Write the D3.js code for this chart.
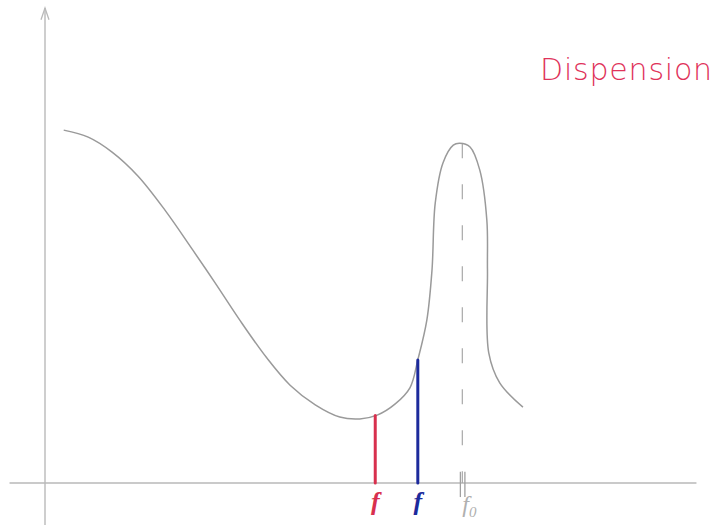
<!DOCTYPE html>
<html>
<head>
<meta charset="utf-8">
<script src="https://cdn.jsdelivr.net/npm/d3@7"></script>
<style>
  html, body { margin: 0; padding: 0; background: #fff; }
  svg { display: block; }
</style>
</head>
<body>
<svg id="chart" width="724" height="530"></svg>
<script>
// Response curve: a broad fall to a trough, then a sharp resonance peak at f0
const curveX = [0.29, 0.67, 1.04, 1.44, 1.86, 2.29, 2.64, 3.02, 3.44, 3.80, 4.19, 4.57, 4.88, 5.15, 5.43, 5.66, 5.78, 5.92, 6.00, 6.05, 6.17, 6.33, 6.43, 6.59, 6.74, 6.85, 6.86, 6.88, 7.05, 7.41];
const curveY = [7.54, 7.39, 7.07, 6.56, 5.83, 4.98, 4.27, 3.48, 2.67, 2.09, 1.67, 1.41, 1.37, 1.45, 1.69, 2.04, 2.63, 3.48, 4.55, 5.98, 6.84, 7.22, 7.26, 7.18, 6.69, 5.62, 4.55, 2.78, 2.14, 1.62];

// Two marked frequencies and the resonance frequency
const markNames = ["f", "f"];
const markX = [5.12, 5.78];
const markY = [1.44, 2.63];
const markColors = ["#d8304e", "#1c2a9c"];
const f0X = 6.47;
const f0Y = 7.26;
const f0Label = "f";
const f0Sub = "0";
const title = "Dispension";

const svg = d3.select("#chart");
const x = d3.scaleLinear().domain([0, 10]).range([45, 690]);
const y = d3.scaleLinear().domain([0, 10]).range([483, 15]);

const axisColor = "#b9b9b9";
const curveColor = "#9a9a9a";

// Axes drawn as plain hand-sketched lines
svg.append("line")
  .attr("x1", x(-0.55)).attr("x2", x(10.1))
  .attr("y1", y(0)).attr("y2", y(0))
  .attr("stroke", axisColor).attr("stroke-width", 1.4);
svg.append("line")
  .attr("x1", x(0)).attr("x2", x(0))
  .attr("y1", y(-0.9)).attr("y2", y(10.15))
  .attr("stroke", axisColor).attr("stroke-width", 1.4);
// arrow head on the vertical axis
svg.append("path")
  .attr("d", d3.line()([[x(0) - 4, y(9.9)], [x(0), y(10.15)], [x(0) + 4, y(9.9)]]))
  .attr("fill", "none").attr("stroke", axisColor).attr("stroke-width", 1.3);

// dashed line under the peak
svg.append("line")
  .attr("x1", x(f0X)).attr("x2", x(f0X))
  .attr("y1", y(f0Y)).attr("y2", y(0))
  .attr("stroke", "#a8a8a8").attr("stroke-width", 1.2)
  .attr("stroke-dasharray", "15,26");
// double tick at f0 on the axis
[-0.03, 0.04].forEach(d => {
  svg.append("line")
    .attr("x1", x(f0X + d)).attr("x2", x(f0X + d))
    .attr("y1", y(0.24)).attr("y2", y(-0.3))
    .attr("stroke", "#a0a0a0").attr("stroke-width", 1.3);
});

// the curve
const pts = curveX.map((v, i) => [v, curveY[i]]);
svg.append("path")
  .datum(pts)
  .attr("d", d3.line().x(d => x(d[0])).y(d => y(d[1])).curve(d3.curveCatmullRom.alpha(0.5)))
  .attr("fill", "none").attr("stroke", curveColor).attr("stroke-width", 1.5);

// marked frequency lines and labels
markX.forEach((v, i) => {
  svg.append("line")
    .attr("x1", x(v)).attr("x2", x(v))
    .attr("y1", y(markY[i])).attr("y2", y(0))
    .attr("stroke", markColors[i]).attr("stroke-width", 3)
    .attr("stroke-linecap", "round");
  svg.append("text")
    .attr("x", x(v)).attr("y", y(-0.58))
    .attr("text-anchor", "middle")
    .attr("font-family", "Liberation Serif")
    .attr("font-style", "italic").attr("font-weight", "bold")
    .attr("font-size", 26)
    .attr("fill", markColors[i])
    .text(markNames[i]);
});

// f0 label
const f0t = svg.append("text")
  .attr("x", x(f0X) + 0).attr("y", y(-0.62))
  .attr("font-family", "Liberation Serif")
  .attr("font-style", "italic")
  .attr("font-size", 24)
  .attr("fill", "#b0b0b0");
f0t.append("tspan").text(f0Label);
f0t.append("tspan").attr("font-size", 15).attr("dy", 5).text(f0Sub);

// title
svg.append("text")
  .attr("x", 540).attr("y", 80)
  .attr("font-family", "DejaVu Sans")
  .attr("font-weight", 300)
  .attr("font-size", 30)
  .attr("letter-spacing", 0.8)
  .attr("fill", "#e0325a")
  .text(title);
</script>
</body>
</html>
